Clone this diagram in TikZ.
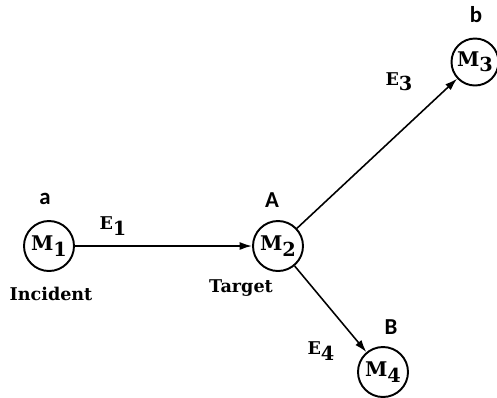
\documentclass[tikz,border=0pt]{standalone}
\usepackage{fontspec}
\setmainfont{DejaVu Serif}
\newfontfamily\labelfont{Carlito}
\usetikzlibrary{arrows.meta}
\newcommand{\sub}[1]{\raisebox{-3pt}{\fontsize{11}{12}\selectfont #1}}

\begin{document}
\begin{tikzpicture}[x=0.02cm, y=-0.02cm,
    mass/.style={draw, line width=1.1pt, circle, minimum size=50*0.02cm, inner sep=0pt, font=\fontsize{11.5}{13}\selectfont\bfseries},
    tag/.style={font=\fontsize{13}{15}\selectfont\labelfont\bfseries},
    energy/.style={font=\fontsize{10}{12}\selectfont\bfseries},
    caption/.style={font=\fontsize{10}{12}\selectfont\bfseries},
    track/.style={line width=0.9pt, -{Latex[length=7pt, width=4.5pt]}}]
    \useasboundingbox (0,0) rectangle (497,397);

    % 1. the four particles
    \node[mass] (m1) at (49,246) {M\sub{1}};
    \node[mass] (m2) at (278,246) {M\sub{2}};
    \node[mass, minimum size=47*0.02cm] (m3) at (475,62) {M\sub{3}};
    \node[mass] (m4) at (383,372) {M\sub{4}};

    % 2. tracks between them
    \draw[track] (m1) -- (m2);
    \draw[track] (m2) -- (m3);
    \draw[track] (m2) -- (m4);

    % 3. energies along the tracks
    \node[energy] (e1) at (113,226) {E\sub{1}};
    \node[energy] (e3) at (399,82) {E\sub{3}};
    \node[energy] (e4) at (321,351) {E\sub{4}};

    % 4. letters above the particles
    \node[tag] (la) at (45,199) {a};
    \node[tag] (lA) at (272,200) {A};
    \node[tag] (lb) at (476,15) {b};
    \node[tag] (lB) at (391,327) {B};

    % 5. names under the particles
    \node[caption] (inc) at (51,294) {Incident};
    \node[caption] (tar) at (241,288) {Target};
\end{tikzpicture}
\end{document}
